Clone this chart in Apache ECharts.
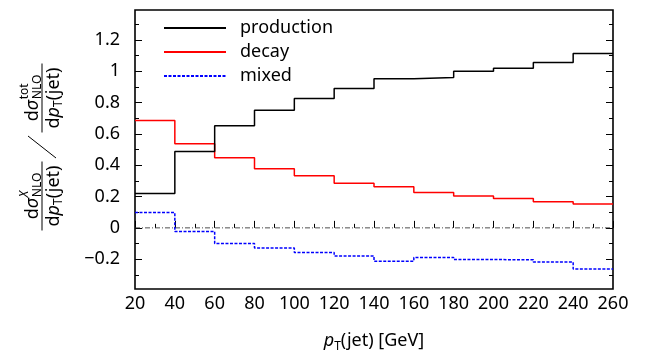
<!DOCTYPE html>
<html>
<head>
<meta charset="utf-8">
<script src="https://cdn.jsdelivr.net/npm/echarts@6/dist/echarts.min.js"></script>
<style>
  html, body { margin: 0; padding: 0; background: #fff; }
  #chart { width: 650px; height: 356px; }
</style>
</head>
<body>
<div id="chart"></div>
<script>
// bin edges in GeV, one value per bin
const binEdges = [20, 40, 60, 80, 100, 120, 140, 160, 180, 200, 220, 240, 260];
const production = [0.219, 0.487, 0.651, 0.751, 0.825, 0.889, 0.951, 0.959, 1.0, 1.019, 1.055, 1.112];
const decay = [0.685, 0.536, 0.447, 0.377, 0.332, 0.285, 0.262, 0.225, 0.204, 0.187, 0.166, 0.153];
const mixed = [0.098, -0.023, -0.100, -0.128, -0.157, -0.179, -0.213, -0.189, -0.202, -0.204, -0.217, -0.262];

const majorTicks = [-0.2, 0, 0.2, 0.4, 0.6, 0.8, 1.0, 1.2];
const minorTicks = [-0.3, -0.1, 0.1, 0.3, 0.5, 0.7, 0.9, 1.1, 1.3];
const yMin = -0.39, yMax = 1.39;

const FONT = '"Noto Sans", sans-serif';

// step points: left edge of every bin, plus the final right edge
const steps = (vals) => binEdges.map((x, i) => [x, vals[Math.min(i, vals.length - 1)]]);

// measure text for the hand-built axis title
const ctx = document.createElement('canvas').getContext('2d');
const measure = (t, size, italic) => {
  ctx.font = (italic ? 'italic ' : '') + size + 'px ' + FONT;
  return ctx.measureText(t).width;
};
const txt = (t, x, baseline, size, italic) => ({
  type: 'text',
  x: x,
  y: baseline - 0.285 * size,
  style: {
    text: t, fill: '#000', font: (italic ? 'italic ' : '') + size + 'px ' + FONT,
    textAlign: 'left', textVerticalAlign: 'middle'
  }
});

// d sigma^sup_NLO / d p_T(jet), centred at local x = cx (local frame of rotated group)
function fraction(cx, sup, supItalic) {
  const lineY = 42, big = 18, small = 12;
  const els = [];
  const wd = measure('d', big), ws = measure('σ', big, true);
  const wScr = Math.max(measure(sup, small, supItalic), measure('NLO', small));
  let x = cx - (wd + ws + 1 + wScr) / 2;
  els.push(txt('d', x, 38, big));
  els.push(txt('σ', x + wd, 38, big, true));
  const sx = x + wd + ws + 1;
  els.push(txt(sup, sx, 28, small, supItalic));
  els.push(txt('NLO', sx, 41, small));
  // denominator
  const parts = [['d', big, false, 0], ['p', big, true, 0], ['T', small, false, 3], ['(jet)', big, false, 0]];
  let w = 0;
  parts.forEach(p => { w += measure(p[0], p[1], p[2]); });
  x = cx - w / 2;
  parts.forEach(p => {
    els.push(txt(p[0], x, 59 + p[3], p[1], p[2]));
    x += measure(p[0], p[1], p[2]);
  });
  const half = Math.max(w, wd + ws + wScr) / 2 + 4;
  els.push({ type: 'line', shape: { x1: cx - half, y1: lineY, x2: cx + half, y2: lineY }, style: { stroke: '#000', lineWidth: 1 } });
  return els;
}

const titleEls = []
  .concat(fraction(-196, 'X', true))
  .concat(fraction(-98, 'tot', false))
  .concat([{ type: 'line', shape: { x1: -158, y1: 56, x2: -136, y2: 28 }, style: { stroke: '#000', lineWidth: 1 } }]);

const chart = echarts.init(document.getElementById('chart'));

const yBase = {
  type: 'value', min: yMin, max: yMax,
  axisLine: { show: false },
  splitLine: { show: false },
};
const fmt = (v) => String(Math.round(v * 10) / 10).replace('-', '\u2212');

const option = {
  animation: false,
  backgroundColor: '#fff',
  grid: {
    left: 135, right: 37, top: 10, bottom: 67, outerBoundsMode: 'none',
    show: true, borderColor: '#000', borderWidth: 1.6, backgroundColor: 'transparent'
  },
  legend: {
    data: ['production', 'decay', 'mixed'],
    orient: 'vertical',
    left: 163, top: 16, padding: 0,
    itemWidth: 62, itemHeight: 10, itemGap: 0,
    itemStyle: { opacity: 0 },
    textStyle: { fontSize: 18, fontFamily: FONT, color: '#000', lineHeight: 24, padding: [0, 0, 0, 9] }
  },
  xAxis: {
    type: 'value', min: 20, max: 260, interval: 20,
    name: '{i|p}{s|T}(jet) [GeV]',
    nameLocation: 'middle', nameGap: 40,
    nameTextStyle: {
      fontSize: 18, fontFamily: FONT, color: '#000',
      rich: {
        i: { fontSize: 18, fontFamily: FONT, fontStyle: 'italic', color: '#000' },
        s: { fontSize: 12, fontFamily: FONT, color: '#000', padding: [12, 0, 0, 0] }
      }
    },
    axisLine: { show: false },
    splitLine: { show: false },
    axisTick: { inside: true, length: 7, lineStyle: { color: '#000', width: 1 } },
    minorTick: { show: true, splitNumber: 2, length: 4, lineStyle: { color: '#000', width: 1 } },
    axisLabel: { fontSize: 18, fontFamily: FONT, color: '#000', margin: 6 }
  },
  yAxis: [
    Object.assign({}, yBase, {
      position: 'left',
      axisTick: { inside: true, length: 7, customValues: majorTicks, lineStyle: { color: '#000', width: 1 } },
      axisLabel: { customValues: majorTicks, formatter: fmt, fontSize: 18, fontFamily: FONT, color: '#000', margin: 15 }
    }),
    Object.assign({}, yBase, {
      position: 'left',
      axisTick: { inside: true, length: 4, customValues: minorTicks, lineStyle: { color: '#000', width: 1 } },
      axisLabel: { show: false }
    }),
    Object.assign({}, yBase, {
      position: 'right',
      axisTick: { inside: true, length: 7, customValues: majorTicks, lineStyle: { color: '#000', width: 1 } },
      axisLabel: { show: false }
    }),
    Object.assign({}, yBase, {
      position: 'right',
      axisTick: { inside: true, length: 4, customValues: minorTicks, lineStyle: { color: '#000', width: 1 } },
      axisLabel: { show: false }
    })
  ],
  graphic: [{ type: 'group', x: 0, y: 0, rotation: Math.PI / 2, children: titleEls }],
  series: [
    {
      name: 'zero', type: 'line', data: [[20, 0], [260, 0]], symbol: 'none', silent: true,
      lineStyle: { color: '#222', width: 0.8, type: [5, 2, 1, 2] }
    },
    {
      name: 'mixed', type: 'line', step: 'end', data: steps(mixed), symbol: 'none',
      lineStyle: { color: '#0000ff', width: 1.5, type: [3, 1.5] }, itemStyle: { color: '#0000ff' }
    },
    {
      name: 'decay', type: 'line', step: 'end', data: steps(decay), symbol: 'none',
      lineStyle: { color: '#ff0000', width: 1.5 }, itemStyle: { color: '#ff0000' }
    },
    {
      name: 'production', type: 'line', step: 'end', data: steps(production), symbol: 'none',
      lineStyle: { color: '#000', width: 1.5 }, itemStyle: { color: '#000' }
    }
  ]
};

chart.setOption(option);
</script>
</body>
</html>
